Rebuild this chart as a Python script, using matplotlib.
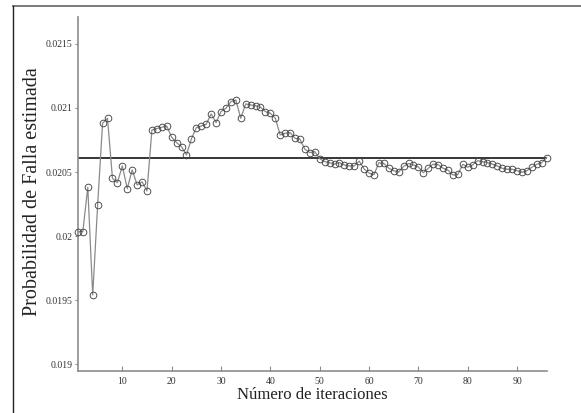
import matplotlib
matplotlib.use("Agg")
import matplotlib.pyplot as plt
from matplotlib.lines import Line2D
import numpy as np

iterations = list(range(1, 97))
prob_falla = [
    0.020035, 0.020035, 0.020381, 0.019541, 0.020243, 0.020881, 0.020920, 0.020452,
    0.020417, 0.020548, 0.020371, 0.020517, 0.020400, 0.020425, 0.020353, 0.020829,
    0.020840, 0.020850, 0.020860, 0.020772, 0.020730, 0.020698, 0.020634, 0.020759,
    0.020847, 0.020860, 0.020873, 0.020954, 0.020886, 0.020972, 0.020998, 0.021050,
    0.021063, 0.020920, 0.021032, 0.021024, 0.021018, 0.021006, 0.020972, 0.020959,
    0.020920, 0.020790, 0.020803, 0.020808, 0.020764, 0.020756, 0.020678, 0.020652,
    0.020660, 0.020604, 0.020582, 0.020574, 0.020561, 0.020574, 0.020556, 0.020548,
    0.020548, 0.020586, 0.020524, 0.020493, 0.020480, 0.020574, 0.020567, 0.020530,
    0.020511, 0.020500, 0.020545, 0.020567, 0.020556, 0.020540, 0.020495, 0.020530,
    0.020562, 0.020558, 0.020530, 0.020515, 0.020477, 0.020482, 0.020561, 0.020538,
    0.020556, 0.020589, 0.020581, 0.020574, 0.020563, 0.020548, 0.020530, 0.020522,
    0.020522, 0.020511, 0.020499, 0.020511, 0.020538, 0.020561, 0.020574, 0.020613,
]
reference_value = 0.02061
x_ticks = [10, 20, 30, 40, 50, 60, 70, 80, 90]
y_ticks = [0.019, 0.0195, 0.02, 0.0205, 0.021, 0.0215]
y_tick_labels = ["0.019", "0.0195", "0.02", "0.0205", "0.021", "0.0215"]
x_label = "Número de iteraciones"
y_label = "Probabilidad de Falla estimada"

plt.rcParams['font.family'] = ['Liberation Serif', 'DejaVu Serif']

W, H = 581, 413
fig = plt.figure(figsize=(W / 100, H / 100), dpi=100)
ax = fig.add_axes([77.9 / W, 1 - 371 / H, (546.7 - 77.9) / W, (371 - 17) / H])

ax.plot(iterations, prob_falla, color='#8a8a8a', lw=0.9, zorder=2, clip_on=False)
ax.plot(iterations, prob_falla, linestyle='none', marker='o', markersize=4.8,
        markerfacecolor='none', markeredgecolor='#444444', markeredgewidth=0.65,
        zorder=3, clip_on=False)
ax.plot([iterations[0], iterations[-1]], [reference_value, reference_value],
        color='black', lw=1.1, zorder=1)

ax.set_xlim(1, 96)
ax.set_ylim(0.018948, 0.02171)
ax.set_xticks(x_ticks)
ax.set_xticklabels([str(t) for t in x_ticks])
ax.set_yticks(y_ticks)
ax.set_yticklabels(y_tick_labels)

for s in ['top', 'right']:
    ax.spines[s].set_visible(False)
for s in ['left', 'bottom']:
    ax.spines[s].set_color('#8c8c8c')
    ax.spines[s].set_linewidth(1.2)

ax.tick_params(axis='x', direction='in', length=3.5, width=0.8, color='#8c8c8c',
               labelsize=7, pad=4, labelcolor='#333333')
ax.tick_params(axis='y', direction='out', length=2.5, width=0.8, color='#8c8c8c',
               labelsize=7, pad=1.5, labelcolor='#333333')

fig.text(312 / W, 1 - 395 / H, x_label, ha='center', va='center', fontsize=12, color='#222222')
fig.text(33 / W, 1 - 192 / H, y_label, ha='center', va='center', rotation=90,
         fontsize=14.5, color='#222222')

# outer frame (top and left edges visible)
fig.add_artist(Line2D([12.5 / W, 1.0], [1 - 5.5 / H, 1 - 5.5 / H],
                      transform=fig.transFigure, color='#7a7a7a', lw=1.4))
fig.add_artist(Line2D([12.5 / W, 12.5 / W], [1 - 5.5 / H, 0.0],
                      transform=fig.transFigure, color='#222222', lw=1.0))

fig.savefig("out.png", dpi=100, facecolor='white')
